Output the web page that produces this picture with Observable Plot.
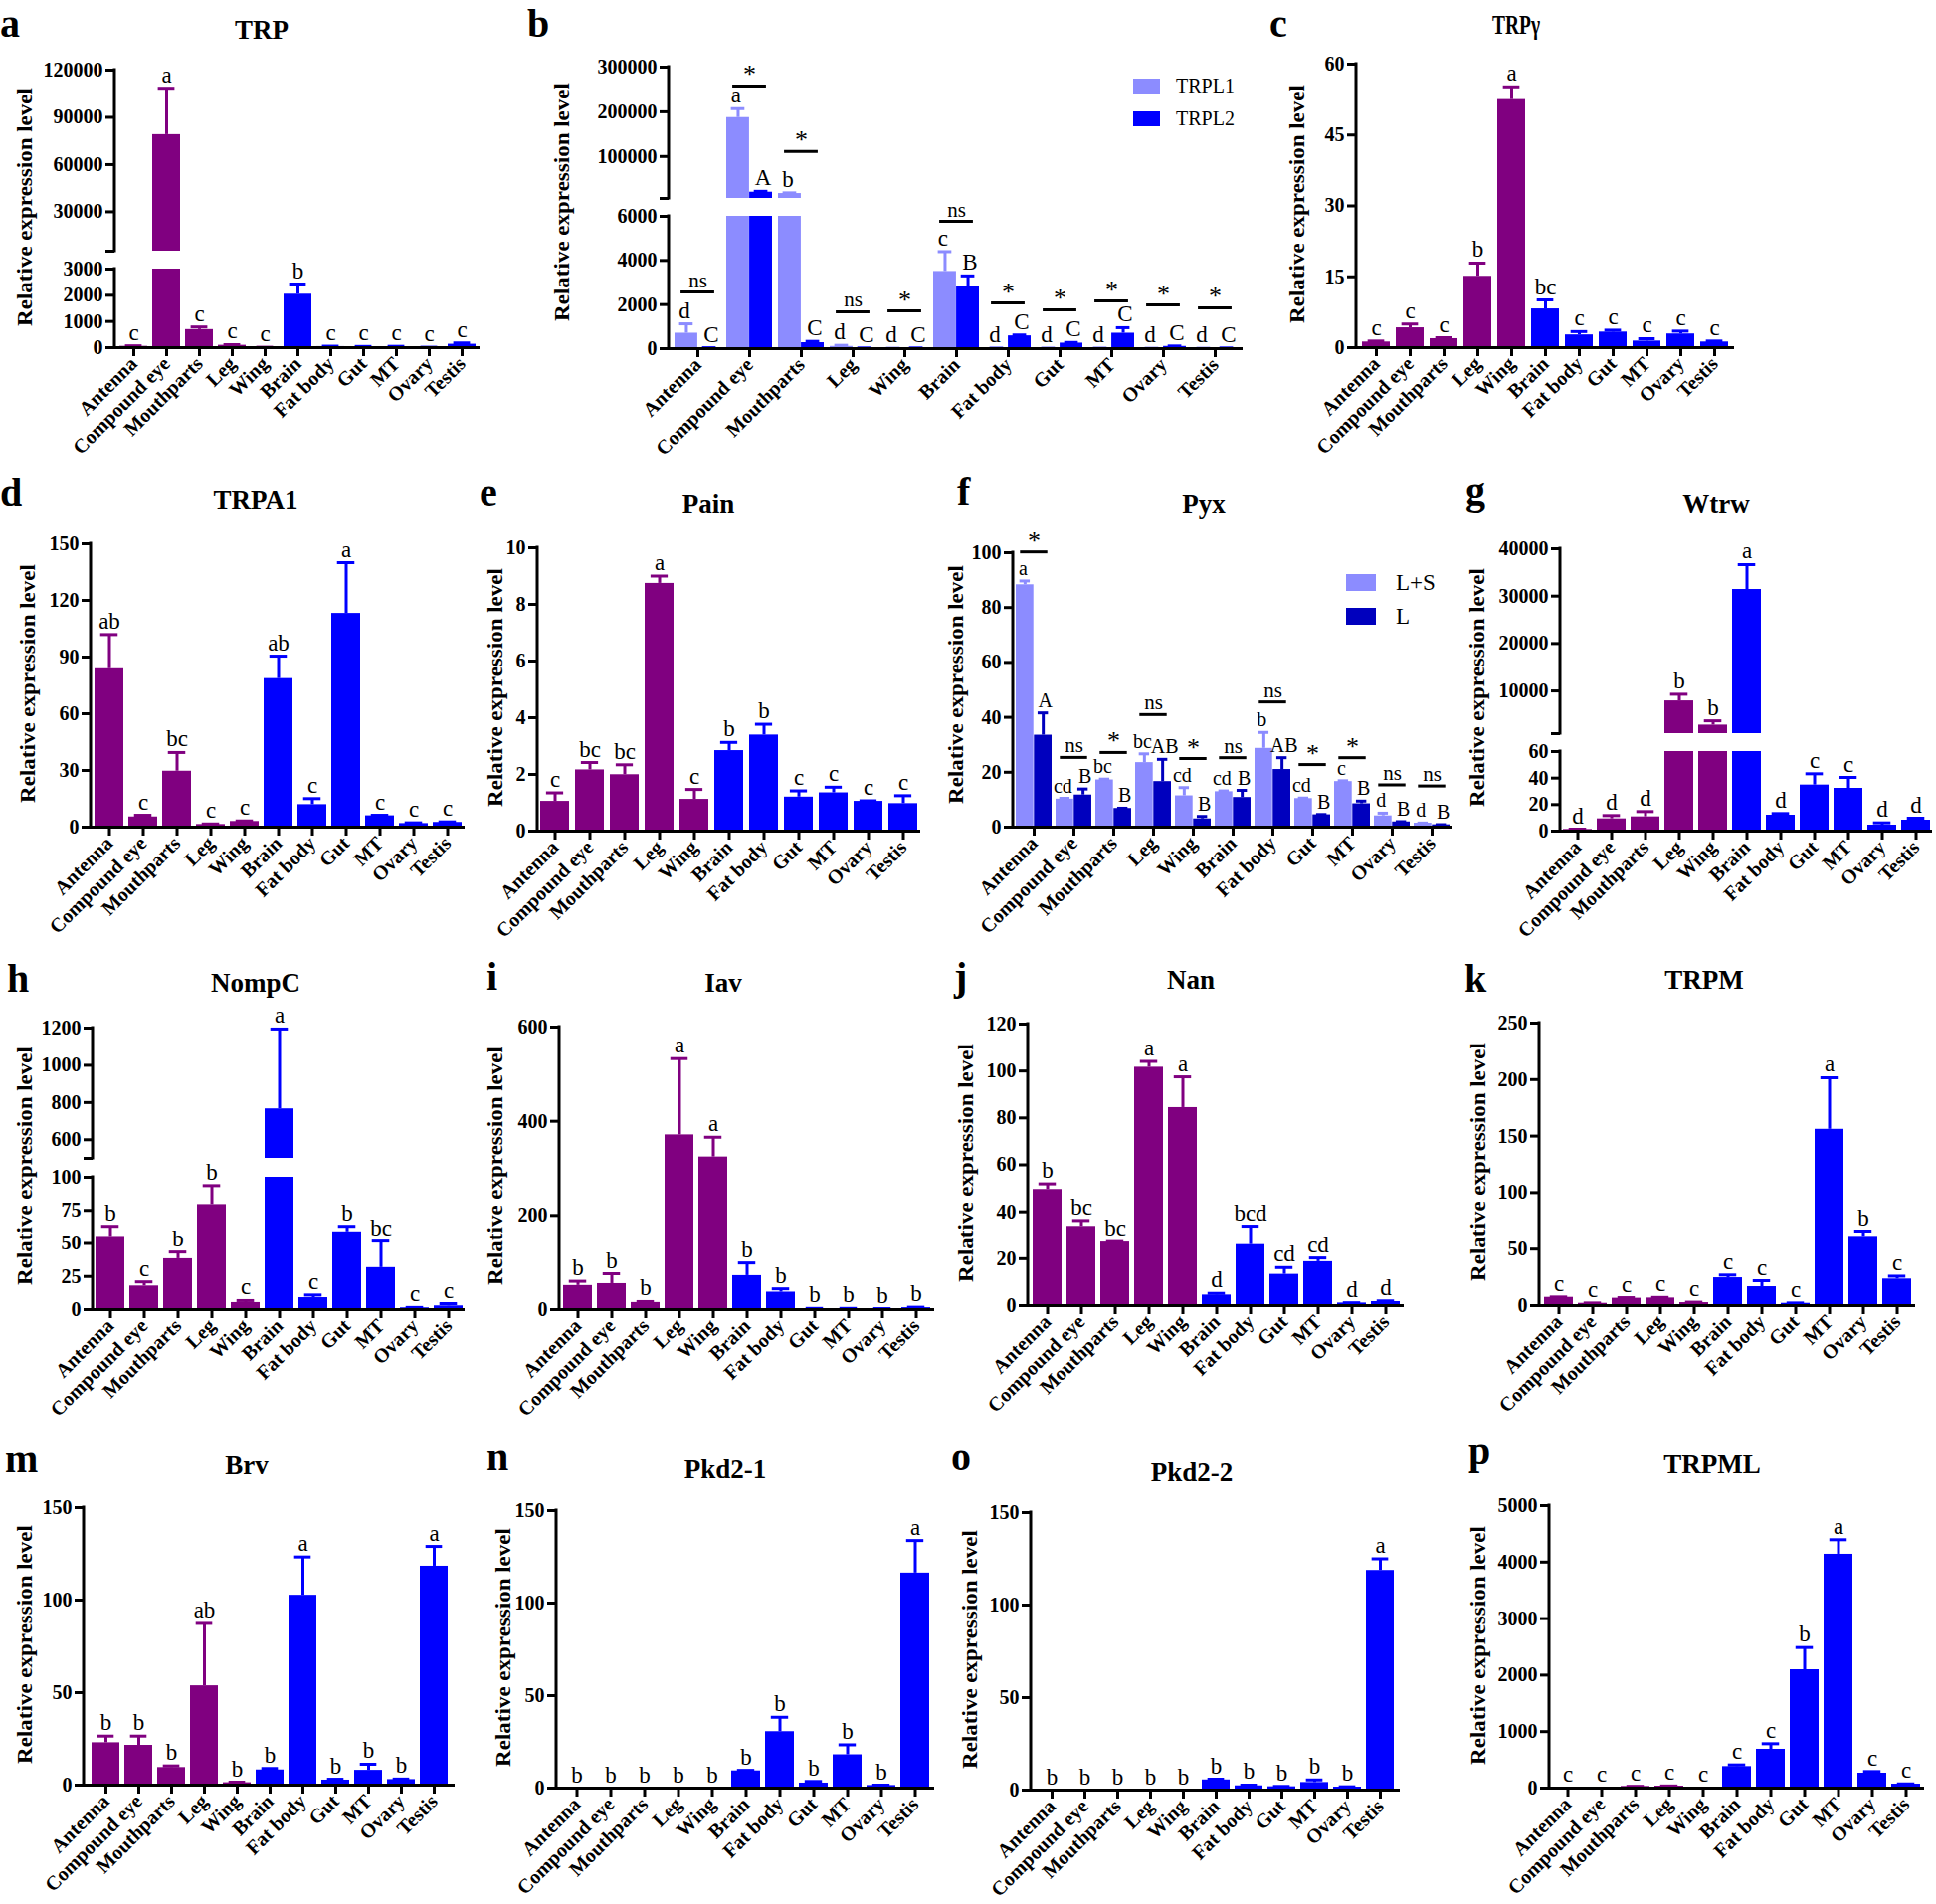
<!DOCTYPE html>
<html><head><meta charset="utf-8">
<script src="https://cdn.jsdelivr.net/npm/d3@7"></script>
<script src="https://cdn.jsdelivr.net/npm/@observablehq/plot@0.6"></script>
<style>
body{margin:0;background:#fff;}
#fig{position:relative;width:1946px;height:1914px;background:#fff;font-family:"Liberation Serif","Times New Roman",Times,serif;color:#000;overflow:hidden}
.abs{position:absolute;white-space:nowrap;line-height:1}
.title{font-weight:bold;font-size:27px;transform:translate(-50%,-50%)}
.plabel{font-weight:bold;font-size:40px;line-height:0.6}
.ylab{font-weight:bold;font-size:20px;transform:translate(-50%,-50%) rotate(-90deg) scaleX(1.15)}
.leg{font-size:20px;transform:translateY(-50%)}
.sw{position:absolute}
</style></head><body><div id="fig"></div>
<script>
// ---------------- DATA ----------------
const tissues = ["Antenna","Compound eye","Mouthparts","Leg","Wing","Brain","Fat body","Gut","MT","Ovary","Testis"];
const titles = ["TRP","","TRPγ","TRPA1","Pain","Pyx","Wtrw","NompC","Iav","Nan","TRPM","Brv","Pkd2-1","Pkd2-2","TRPML"];
const panelLetters = ["a","b","c","d","e","f","g","h","i","j","k","m","n","o","p"];
const yTitle = "Relative expression level";

// a TRP
const trpMean = [50, 79000, 690, 90, 10, 2040, 40, 30, 35, 10, 130];
const trpErr  = [70, 108500, 790, 115, 15, 2430, 55, 45, 50, 15, 180];
const trpSig  = ["c","a","c","c","c","b","c","c","c","c","c"];
const trpTicksUpper = [30000, 60000, 90000, 120000];
const trpTicksLower = [0, 1000, 2000, 3000];
// b TRPL
const trplSeries = ["TRPL1","TRPL2"];
const trpl1Mean = [700, 187000, 17000, 100, 10, 3500, 20, 15, 15, 10, 10];
const trpl1Err  = [1125, 207000, 18500, 150, 20, 4400, 40, 30, 30, 20, 20];
const trpl1Sig  = ["d","a","b","d","d","c","d","d","d","d","d"];
const trpl2Mean = [30, 20000, 270, 20, 20, 2800, 580, 250, 700, 100, 20];
const trpl2Err  = [40, 22000, 330, 30, 30, 3300, 620, 280, 950, 120, 30];
const trpl2Sig  = ["C","A","C","C","C","B","C","C","C","C","C"];
const trplPair  = ["ns","*","*","ns","*","ns","*","*","*","*","*"];
const trplPairY = [2570, 257800, 111100, 1670, 1710, 5770, 2070, 1760, 2160, 1980, 1850];
const trplTicksUpper = [100000, 200000, 300000];
const trplTicksLower = [0, 2000, 4000, 6000];
// c TRPgamma
const trpgMean = [1.2, 4.2, 1.9, 15.1, 52.5, 8.2, 2.7, 3.3, 1.4, 2.9, 1.2];
const trpgErr  = [1.4, 5.0, 2.1, 17.9, 55.2, 10.1, 3.4, 3.7, 1.9, 3.5, 1.4];
const trpgSig  = ["c","c","c","b","a","bc","c","c","c","c","c"];
const trpgTicks = [0, 15, 30, 45, 60];
// d TRPA1
const trpa1Mean = [83.8, 5.4, 29.6, 1.4, 3.0, 78.6, 11.9, 113.1, 6.0, 1.9, 2.5];
const trpa1Err  = [101.9, 6.3, 39.5, 1.7, 3.3, 90.5, 15.1, 140, 6.3, 2.3, 2.8];
const trpa1Sig  = ["ab","c","bc","c","c","ab","c","a","c","c","c"];
const trpa1Ticks = [0, 30, 60, 90, 120, 150];
// e Pain
const painMean = [1.05, 2.16, 1.99, 8.74, 1.12, 2.84, 3.39, 1.2, 1.35, 1.05, 0.97];
const painErr  = [1.35, 2.42, 2.34, 9.0, 1.47, 3.13, 3.77, 1.42, 1.55, 1.07, 1.25];
const painSig  = ["c","bc","bc","a","c","b","b","c","c","c","c"];
const painTicks = [0, 2, 4, 6, 8, 10];
// f Pyx
const pyxSeries = ["L+S","L"];
const pyxLSMean = [88.3, 10.2, 17.2, 23.5, 11.4, 12.9, 28.7, 10.4, 16.6, 4.1, 1.45];
const pyxLSErr  = [89.7, 10.5, 17.5, 26.7, 14.4, 13.2, 34.5, 10.6, 16.9, 5.1, 1.5];
const pyxLSSig  = ["a","cd","bc","bc","cd","cd","b","cd","c","d","d"];
const pyxLMean  = [33.5, 11.7, 6.8, 16.6, 3.0, 10.8, 21, 4.5, 8.5, 1.9, 0.85];
const pyxLErr   = [41.6, 13.9, 6.9, 24.7, 3.9, 13.4, 25.3, 4.6, 9.5, 2.0, 0.9];
const pyxLSig   = ["A","B","B","AB","B","B","AB","B","B","B","B"];
const pyxPair   = ["*","ns","*","ns","*","ns","ns","*","*","ns","ns"];
const pyxPairY  = [100.3, 25.4, 27.2, 41, 25, 25.3, 45.6, 22.8, 25.3, 15.4, 15];
const pyxTicks = [0, 20, 40, 60, 80, 100];
// g Wtrw
const wtrwMean = [1.25, 9.25, 10.75, 7900, 2800, 31400, 12, 34.75, 32.25, 4.5, 8.25];
const wtrwErr  = [1.5, 11.75, 14.75, 9300, 3700, 36650, 13.25, 43.25, 40.5, 6.25, 9.75];
const wtrwSig  = ["d","d","d","b","b","a","d","c","c","d","d"];
const wtrwTicksUpper = [10000, 20000, 30000, 40000];
const wtrwTicksLower = [0, 20, 40, 60];
// h NompC
const nompcMean = [55.3, 17.8, 38.4, 79.4, 5.3, 766, 9, 58.8, 31.7, 1.3, 2.8];
const nompcErr  = [63, 20.9, 43.5, 93.7, 6.8, 1195, 11, 63, 51.8, 1.6, 4.5];
const nompcSig  = ["b","c","b","b","c","a","c","b","bc","c","c"];
const nompcTicksUpper = [600, 800, 1000, 1200];
const nompcTicksLower = [0, 25, 50, 75, 100];
// i Iav
const iavMean = [51, 55, 15, 371, 324, 72, 37, 2, 2, 1.5, 4];
const iavErr  = [60, 76, 17, 533, 366, 99, 44, 2.5, 2.5, 2, 5];
const iavSig  = ["b","b","b","a","a","b","b","b","b","b","b"];
const iavTicks = [0, 200, 400, 600];
// j Nan
const nanMean = [49.5, 33.8, 27.1, 101.6, 84.4, 4.5, 26, 13.3, 18.7, 1.1, 1.7];
const nanErr  = [51.9, 36.3, 27.3, 104.1, 97.5, 5.2, 33.9, 16.2, 20.3, 1.2, 2.0];
const nanSig  = ["b","bc","bc","a","a","d","bcd","cd","cd","d","d"];
const nanTicks = [0, 20, 40, 60, 80, 100, 120];
// k TRPM
const trpmMean = [7.3, 2, 6.5, 6.7, 2.6, 24.6, 16.7, 2, 156, 61.3, 23.5];
const trpmErr  = [7.6, 2.3, 7, 7.2, 3, 27, 22, 2.3, 201.6, 66, 26];
const trpmSig  = ["c","c","c","c","c","c","c","c","a","b","c"];
const trpmTicks = [0, 50, 100, 150, 200, 250];
// m Brv
const brvMean = [22.9, 21.5, 9.5, 53.7, 1.3, 8.2, 102.6, 2.7, 8, 3, 118.3];
const brvErr  = [26.5, 26.5, 10.4, 87.4, 1.6, 9, 123.3, 3.2, 11.3, 3.3, 129];
const brvSig  = ["b","b","b","ab","b","b","a","b","b","b","a"];
const brvTicks = [0, 50, 100, 150];
// n Pkd2-1
const pkd21Mean = [0, 0, 0, 0, 0, 9.3, 30.5, 2.7, 18, 1.4, 116.2];
const pkd21Err  = [0, 0, 0, 0, 0, 9.6, 38.3, 3.6, 23.4, 1.6, 133.8];
const pkd21Sig  = ["b","b","b","b","b","b","b","b","b","b","a"];
const pkd21Ticks = [0, 50, 100, 150];
// o Pkd2-2
const pkd22Mean = [0, 0, 0, 0, 0, 5.5, 2.3, 1.8, 4.1, 1.6, 118.7];
const pkd22Err  = [0, 0, 0, 0, 0, 5.9, 2.7, 2.0, 5.5, 1.8, 125];
const pkd22Sig  = ["b","b","b","b","b","b","b","b","b","b","a"];
const pkd22Ticks = [0, 50, 100, 150];
// p TRPML
const trpmlMean = [5, 5, 30, 35, 5, 381, 687, 2095, 4138, 264, 70];
const trpmlErr  = [5, 5, 32, 38, 5, 411, 786, 2488, 4396, 293, 75];
const trpmlSig  = ["c","c","c","c","c","c","c","b","a","c","c"];
const trpmlTicks = [0, 1000, 2000, 3000, 4000, 5000];

// ---------------- STYLE / LAYOUT ----------------
const FONT = '"Liberation Serif","Times New Roman",Times,serif';
const PURPLE = "#800080", BLUE = "#0000FF", LIGHT = "#8C8CFF", DARK = "#0000BE";
const tissueColor = i => (i < 5 ? PURPLE : BLUE);
const one = (mean, err, sig) => [{mean, err, sig, color: tissueColor}];

const panels = [
 {series: one(trpMean, trpErr, trpSig), ax:115, ax2:482, pi:0.16,
  segs:[{lo:5000,hi:120000,top:70,bot:252,ticks:trpTicksUpper},{lo:0,hi:3000,top:270,bot:349,ticks:trpTicksLower}],
  tpos:[263,30], lpos:[0,37], ypos:[25,208]},
 {series:[{mean:trpl1Mean, err:trpl1Err, sig:trpl1Sig, color:()=>LIGHT},{mean:trpl2Mean, err:trpl2Err, sig:trpl2Sig, color:()=>BLUE}],
  ax:672, ax2:1249, pi:0.12, pair:trplPair, pairY:trplPairY, pairW:34,
  segs:[{lo:6000,hi:300000,top:67,bot:199,ticks:trplTicksUpper},{lo:0,hi:6000,top:217,bot:350,ticks:trplTicksLower}],
  tpos:null, lpos:[530,37], ypos:[565,203],
  legend:{names:trplSeries, colors:[LIGHT,BLUE], x:1139, ys:[86,119], w:27, h:15, tx:1182, fs:20}},
 {series: one(trpgMean, trpgErr, trpgSig), ax:1363, ax2:1743, pi:0.18,
  segs:[{lo:0,hi:60,top:64,bot:349,ticks:trpgTicks}], tpos:[1524,25], condensed:true, lpos:[1276,37], ypos:[1304,205]},
 {series: one(trpa1Mean, trpa1Err, trpa1Sig), ax:91, ax2:467, pi:0.16,
  segs:[{lo:0,hi:150,top:546,bot:831,ticks:trpa1Ticks}], tpos:[257,503], lpos:[0,509], ypos:[28,687]},
 {series: one(painMean, painErr, painSig), ax:540, ax2:925, pi:0.16,
  segs:[{lo:0,hi:10,top:550,bot:835,ticks:painTicks}], tpos:[712,507], lpos:[482,509], ypos:[498,691]},
 {series:[{mean:pyxLSMean, err:pyxLSErr, sig:pyxLSSig, color:()=>LIGHT},{mean:pyxLMean, err:pyxLErr, sig:pyxLSig, color:()=>DARK}],
  ax:1018, ax2:1460, pi:0.09, pair:pyxPair, pairY:pyxPairY, pairW:28, letterSize:20,
  segs:[{lo:0,hi:100,top:555,bot:831,ticks:pyxTicks}], tpos:[1210,507], lpos:[962,508], ypos:[961,688],
  legend:{names:pyxSeries, colors:[LIGHT,DARK], x:1353, ys:[585,619], w:30, h:17, tx:1403, fs:23}},
 {series: one(wtrwMean, wtrwErr, wtrwSig), ax:1568, ax2:1942, pi:0.16,
  segs:[{lo:1000,hi:40000,top:551,bot:737,ticks:wtrwTicksUpper},{lo:0,hi:60,top:755,bot:835,ticks:wtrwTicksLower}],
  tpos:[1725,507], lpos:[1473,507], ypos:[1485,691]},
 {series: one(nompcMean, nompcErr, nompcSig), ax:93, ax2:467, pi:0.16,
  segs:[{lo:500,hi:1200,top:1033,bot:1164,ticks:nompcTicksUpper},{lo:0,hi:100,top:1183,bot:1316,ticks:nompcTicksLower}],
  tpos:[257,988], lpos:[7,997], ypos:[25,1172]},
 {series: one(iavMean, iavErr, iavSig), ax:562, ax2:939, pi:0.16,
  segs:[{lo:0,hi:600,top:1032,bot:1316,ticks:iavTicks}], tpos:[727,988], lpos:[489,995], ypos:[498,1172]},
 {series: one(nanMean, nanErr, nanSig), ax:1033, ax2:1411, pi:0.16,
  segs:[{lo:0,hi:120,top:1029,bot:1312,ticks:nanTicks}], tpos:[1197,985], lpos:[959,995], ypos:[971,1169]},
 {series: one(trpmMean, trpmErr, trpmSig), ax:1547, ax2:1925, pi:0.16,
  segs:[{lo:0,hi:250,top:1028,bot:1312,ticks:trpmTicks}], tpos:[1713,985], lpos:[1472,997], ypos:[1486,1168]},
 {series: one(brvMean, brvErr, brvSig), ax:84, ax2:457, pi:0.16,
  segs:[{lo:0,hi:150,top:1515,bot:1794,ticks:brvTicks}], tpos:[248,1473], lpos:[5,1480], ypos:[25,1653]},
 {series: one(pkd21Mean, pkd21Err, pkd21Sig), ax:559, ax2:939, pi:0.16,
  segs:[{lo:0,hi:150,top:1518,bot:1797,ticks:pkd21Ticks}], tpos:[729,1477], lpos:[489,1478], ypos:[506,1656]},
 {series: one(pkd22Mean, pkd22Err, pkd22Sig), ax:1036, ax2:1407, pi:0.16,
  segs:[{lo:0,hi:150,top:1520,bot:1799,ticks:pkd22Ticks}], tpos:[1198,1480], lpos:[956,1478], ypos:[975,1658]},
 {series: one(trpmlMean, trpmlErr, trpmlSig), ax:1557, ax2:1934, pi:0.16,
  segs:[{lo:0,hi:5000,top:1513,bot:1797,ticks:trpmlTicks}], tpos:[1721,1472], lpos:[1476,1472], ypos:[1486,1654]}
];

const fig = document.getElementById("fig");
const SVGNS = "http://www.w3.org/2000/svg";

function yLine(lo, hi) {
  return (index, scales, values, dims) => {
    const l = document.createElementNS(SVGNS, "line");
    const x = dims.marginLeft;
    l.setAttribute("x1", x); l.setAttribute("x2", x);
    l.setAttribute("y1", scales.y(hi) - 1.5); l.setAttribute("y2", scales.y(lo) + 1.5);
    l.setAttribute("stroke", "black"); l.setAttribute("stroke-width", 3);
    return l;
  };
}

function addDiv(cls, text, x, y, extra) {
  const d = document.createElement("div");
  d.className = "abs " + cls;
  d.textContent = text;
  d.style.left = x + "px"; d.style.top = y + "px";
  if (extra) Object.assign(d.style, extra);
  fig.appendChild(d);
  return d;
}

function drawPanel(P, idx) {
  const n = tissues.length;
  const W = P.ax2 - P.ax;
  const step = W / n;
  const bw = step * (1 - P.pi);
  const m = P.series.length;
  const nseg = P.segs.length;
  const lsz = P.letterSize || 23;
  P.segs.forEach((seg, si) => {
    const isLower = si === nseg - 1;
    const ML = 110, MR = 16, MT = 60, MB = isLower ? 170 : 4;
    const H = seg.bot - seg.top;
    const lo = seg.lo, hi = seg.hi;
    const inSeg = y => (si === 0 || y <= hi) && (isLower || y > lo);
    const marks = [];
    P.series.forEach((s, k) => {
      const rows = tissues.map((t, i) => ({t, v: s.mean[i], e: s.err[i], lab: s.sig[i], c: s.color(i)}));
      const dx = m === 2 ? (k === 0 ? -bw / 4 : bw / 4) : 0;
      const inL = m === 2 && k === 1 ? bw / 2 : 0;
      const inR = m === 2 && k === 0 ? bw / 2 : 0;
      const half = bw / m;
      const cw = half * 0.6;
      const capL = k * half + (half - cw) / 2;
      const capR = bw - capL - cw;
      marks.push(Plot.barY(rows.filter(d => d.v > lo), {x: "t", y1: () => lo, y2: d => Math.min(d.v, hi), fill: "c", insetLeft: inL, insetRight: inR}));
      marks.push(Plot.ruleX(rows.filter(d => d.e > d.v && d.e > lo && d.v < hi), {x: "t", y1: d => Math.max(d.v, lo), y2: d => Math.min(d.e, hi), stroke: "c", strokeWidth: 3, dx}));
      marks.push(Plot.tickY(rows.filter(d => d.e > d.v && d.e >= lo && d.e <= hi), {x: "t", y: "e", stroke: "c", strokeWidth: 3, insetLeft: capL, insetRight: capR}));
      const ldx = m === 2 ? dx + (k === 0 ? -2 : 2) : 0;
      marks.push(Plot.text(rows.filter(d => inSeg(Math.max(d.v, d.e))), {x: "t", y: d => Math.max(d.v, d.e), text: "lab", dx: ldx, dy: -6, lineAnchor: "bottom", fontSize: lsz, fontWeight: "normal", fill: "black"}));
    });
    if (P.pair) {
      const srows = tissues.map((t, i) => ({t, y: P.pairY[i], s: P.pair[i]})).filter(d => inSeg(d.y));
      const ins = (bw - P.pairW) / 2;
      marks.push(Plot.tickY(srows, {x: "t", y: "y", stroke: "black", strokeWidth: 3, insetLeft: ins, insetRight: ins}));
      marks.push(Plot.text(srows.filter(d => d.s === "*"), {x: "t", y: "y", text: "s", lineAnchor: "bottom", dy: -3, fontSize: 26, fontWeight: "normal", fill: "black"}));
      marks.push(Plot.text(srows.filter(d => d.s !== "*"), {x: "t", y: "y", text: "s", lineAnchor: "bottom", dy: -5, fontSize: 21, fontWeight: "normal", fill: "black"}));
    }
    const tks = lo > 0 ? [lo, ...seg.ticks] : seg.ticks;
    marks.push(Plot.axisY({ticks: tks, tickSize: 9, tickPadding: 3, strokeWidth: 3, fontSize: 20, fontWeight: "bold", label: null,
      tickFormat: d => (lo > 0 && d === lo ? "" : String(d))}));
    marks.push(yLine(lo, hi));
    if (isLower) {
      marks.push(Plot.ruleY([0], {strokeWidth: 3, stroke: "black"}));
      marks.push(Plot.axisX({tickRotate: -45, tickSize: 9, tickPadding: 4, strokeWidth: 3, fontSize: 20, fontWeight: "bold", label: null}));
    }
    const xOpts = {domain: tissues, paddingInner: P.pi, paddingOuter: P.pi / 2, align: 0.5};
    if (!isLower) xOpts.axis = null;
    const svg = Plot.plot({
      width: ML + W + MR, height: MT + H + MB,
      marginLeft: ML, marginRight: MR, marginTop: MT, marginBottom: MB,
      x: xOpts,
      y: {domain: [lo, hi]},
      color: {type: "identity"},
      style: {background: "transparent", overflow: "visible", maxWidth: "none", fontFamily: FONT, fontSize: "20px", fontWeight: "bold", color: "black"},
      marks
    });
    svg.style.position = "absolute";
    svg.style.left = (P.ax - ML) + "px";
    svg.style.top = (seg.top - MT) + "px";
    fig.appendChild(svg);
  });
  if (P.tpos && titles[idx]) {
    const t = addDiv("title", titles[idx], P.tpos[0], P.tpos[1]);
    if (P.condensed) t.style.transform = "translate(-50%,-50%) scaleX(0.72)";
  }
  // baseline offset for 40px font with line-height 0.6: ((0.6-1.107)/2 + 0.891) * 40
  addDiv("plabel", panelLetters[idx], P.lpos[0], P.lpos[1] - 25.5);
  addDiv("ylab", yTitle, P.ypos[0], P.ypos[1]);
  if (P.legend) {
    const L = P.legend;
    L.names.forEach((nm, i) => {
      const sw = document.createElement("div");
      sw.className = "sw";
      Object.assign(sw.style, {left: L.x + "px", top: (L.ys[i] - L.h / 2) + "px", width: L.w + "px", height: L.h + "px", background: L.colors[i]});
      fig.appendChild(sw);
      addDiv("leg", nm, L.tx, L.ys[i], {fontSize: L.fs + "px"});
    });
  }
}

panels.forEach(drawPanel);
</script></body></html>
